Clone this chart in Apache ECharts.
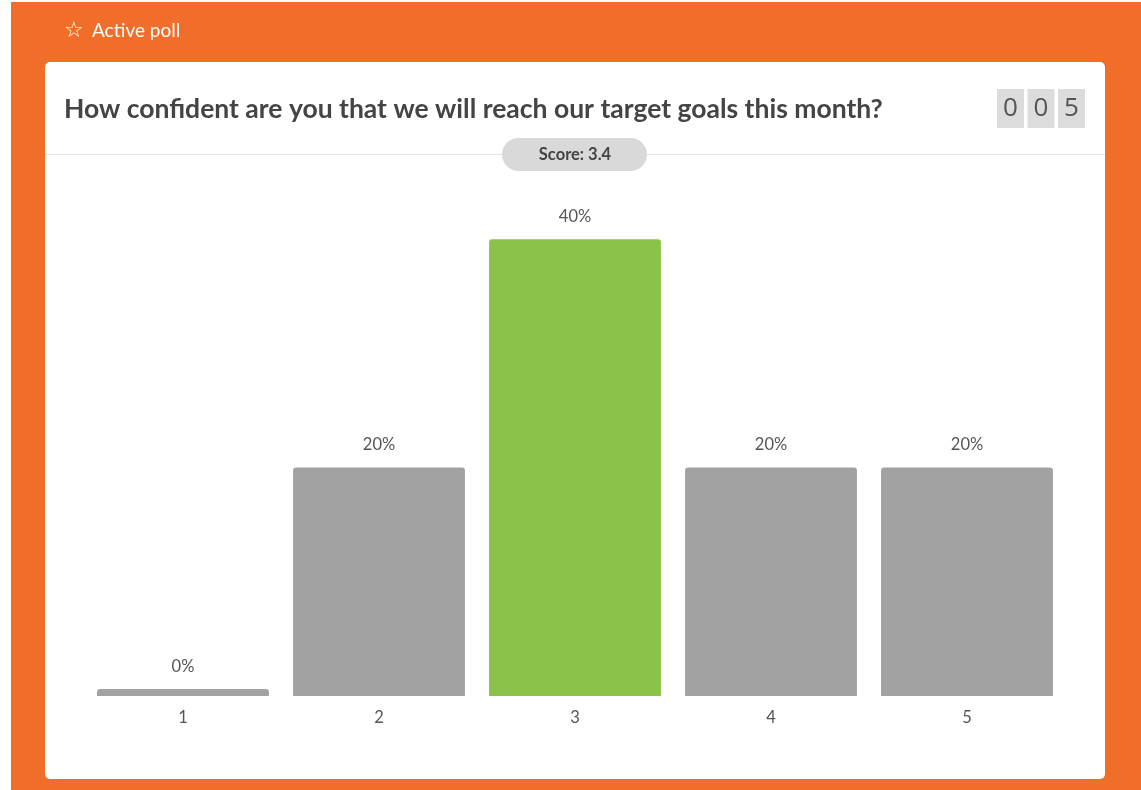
<!DOCTYPE html>
<html><head><meta charset="utf-8">
<script src="https://cdn.jsdelivr.net/npm/echarts@6/dist/echarts.min.js"></script>
<style>html,body{margin:0;padding:0;background:#fff;}#c{width:1141px;height:790px;}</style>
</head><body><div id="c"></div>
<script>
const categories = ['1','2','3','4','5'];
const percentValues = [0, 20, 40, 20, 20];
const headerText = 'Active poll';
const questionText = 'How confident are you that we will reach our target goals this month?';
const counterDigits = ['0','0','5'];
const scoreText = 'Score: 3.4';

const ORANGE = '#f06e2a', GREY = '#a2a2a2', GREEN = '#8bc34a', TEXT = '#444';
const maxVal = Math.max(...percentValues);

const chart = echarts.init(document.getElementById('c'), null, {renderer:'canvas'});
const graphics = [
  {type:'rect', z:-10, silent:true, shape:{x:11,y:2,width:1130,height:788}, style:{fill:ORANGE}},
  {type:'rect', z:-9, silent:true, shape:{x:45,y:62,width:1060,height:717,r:5}, style:{fill:'#ffffff'}},
  {type:'text', z:5, style:{x:64,y:31,text:'\u2606',fill:'#fff',font:'22px "DejaVu Sans"',textVerticalAlign:'middle'}},
  {type:'text', z:5, style:{x:92,y:31,text:headerText,fill:'#fff',font:'19px Lato',textVerticalAlign:'middle'}},
  {type:'text', z:5, style:{x:64,y:109,text:questionText,fill:TEXT,font:'bold 26.5px Lato',textVerticalAlign:'middle'}},
  {type:'line', z:1, shape:{x1:45,y1:154.5,x2:1105,y2:154.5}, style:{stroke:'#e6e6e6',lineWidth:1}},
  {type:'rect', z:2, shape:{x:502,y:138,width:145,height:33,r:16.5}, style:{fill:'#d9d9d9'}},
  {type:'text', z:3, style:{x:575,y:155,text:scoreText,fill:TEXT,font:'bold 16.5px Lato',textAlign:'center',textVerticalAlign:'middle'}}
];
counterDigits.forEach((d,i)=>{
  const x = 997 + i*30.5;
  graphics.push({type:'rect', z:2, shape:{x:x,y:89,width:27,height:39}, style:{fill:'#dcdcdc'}});
  graphics.push({type:'text', z:3, style:{x:x+13.5,y:109,text:d,fill:'#555',font:'26px "Open Sans"',textAlign:'center',textVerticalAlign:'middle'}});
});

chart.setOption({
  animation:false,
  backgroundColor:'transparent',
  graphic: graphics,
  grid:{left:85,right:76,top:125,bottom:94,containLabel:false},
  xAxis:{type:'category',data:categories,
    axisLine:{show:false},axisTick:{show:false},
    axisLabel:{color:'#555',fontFamily:'Lato',fontSize:16.5,margin:13}},
  yAxis:{type:'value',min:0,max:50,show:false,splitLine:{show:false}},
  series:[{type:'bar',data:percentValues,barCategoryGap:'12.3%',barMinHeight:7,
    itemStyle:{borderRadius:[3,3,0,0],color:p=>p.value===maxVal?GREEN:GREY},
    label:{show:true,position:'top',distance:14,color:'#555',fontFamily:'Lato',fontSize:16.5,formatter:'{c}%'}
  }]
});
</script></body></html>
